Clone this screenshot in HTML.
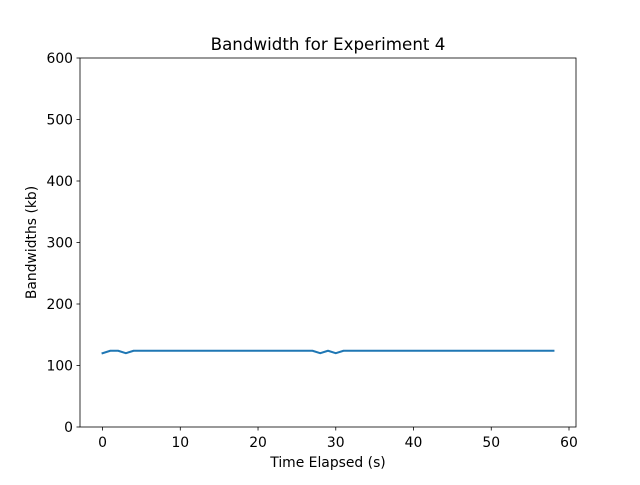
<!DOCTYPE html>
<html><head><meta charset="utf-8"><style>
body{margin:0;background:#fff}
svg text{font-family:"DejaVu Sans","Liberation Sans",sans-serif;fill:#000}
</style></head><body>
<svg id="chart" width="640" height="480" xmlns="http://www.w3.org/2000/svg"></svg>
<script>
const xTicks=[0,10,20,30,40,50,60];
const yTicks=[0,100,200,300,400,500,600];
const times=[];for(let i=0;i<=58;i++)times.push(i);
const bandwidths=[120,124,124,120,124,124,124,124,124,124,124,124,124,124,124,124,124,124,124,124,124,124,124,124,124,124,124,124,120,124,120,124,124,124,124,124,124,124,124,124,124,124,124,124,124,124,124,124,124,124,124,124,124,124,124,124,124,124,124];
const L=80,R=576,T=58,B=427;
const xmin=-2.9,xmax=60.9,ymin=0,ymax=600;
const sx=v=>L+(v-xmin)/(xmax-xmin)*(R-L);
const sy=v=>B-(v-ymin)/(ymax-ymin)*(B-T);
const svg=document.getElementById('chart');
const NS='http://www.w3.org/2000/svg';
function mk(tag,attrs,text){const e=document.createElementNS(NS,tag);for(const k in attrs)e.setAttribute(k,attrs[k]);if(text!==undefined)e.textContent=text;svg.appendChild(e);return e;}
let d='';times.forEach((t,i)=>{d+=(i?'L':'M')+sx(t).toFixed(2)+','+sy(bandwidths[i]).toFixed(2);});
const line=mk('path',{d:d,fill:'none',stroke:'#1f77b4','stroke-width':2,'stroke-linejoin':'round','stroke-linecap':'square'});


const frame=mk('rect',{x:L,y:T,width:R-L,height:B-T,fill:'none',stroke:'#000','stroke-width':0.8});


xTicks.forEach(v=>{const x=sx(v);mk('line',{x1:x,x2:x,y1:B,y2:B+3.5,stroke:'#000','stroke-width':0.8});
const t=mk('text',{x:x,y:B+20,'text-anchor':'middle','font-size':13.9},v);

});
yTicks.forEach(v=>{const y=sy(v);mk('line',{x1:L,x2:L-3.5,y1:y,y2:y,stroke:'#000','stroke-width':0.8});
const t=mk('text',{x:L-7,y:y+5,'text-anchor':'end','font-size':13.9},v);

});
const xt=mk('text',{x:(L+R)/2,y:467,'text-anchor':'middle','font-size':13.9},'Time Elapsed (s)');


const ym=(T+B)/2;
const yt=mk('text',{x:36,y:ym,'text-anchor':'middle','font-size':13.9,transform:'rotate(-90 36 '+ym+')'},'Bandwidths (kb)');


const ti=mk('text',{x:(L+R)/2,y:50,'text-anchor':'middle','font-size':16.7},'Bandwidth for Experiment 4');


</script>
</body></html>
